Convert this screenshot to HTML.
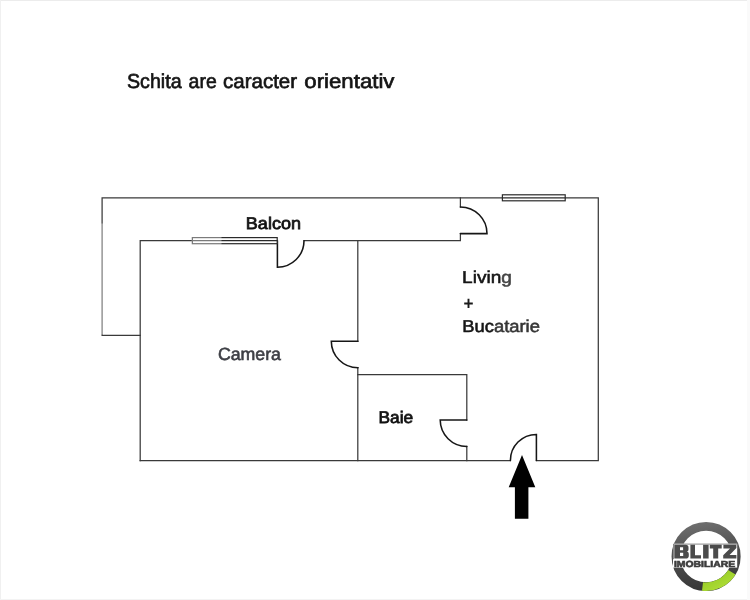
<!DOCTYPE html>
<html>
<head>
<meta charset="utf-8">
<title>Schita</title>
<style>
html,body{margin:0;padding:0;background:#fff;}
body{width:750px;height:600px;overflow:hidden;position:relative;font-family:"Liberation Sans",sans-serif;}
svg{position:absolute;left:0;top:0;display:block;will-change:transform;opacity:0.999;}
text{font-family:"Liberation Sans",sans-serif;}
</style>
</head>
<body>
<svg width="750" height="600" viewBox="0 0 750 600">
  <defs>
    <linearGradient id="ring" gradientUnits="userSpaceOnUse" x1="690" y1="522" x2="700" y2="591">
      <stop offset="0" stop-color="#707070"/>
      <stop offset="0.45" stop-color="#505050"/>
      <stop offset="1" stop-color="#363636"/>
    </linearGradient>
    <linearGradient id="grn" gradientUnits="userSpaceOnUse" x1="715" y1="565" x2="728" y2="590">
      <stop offset="0" stop-color="#8fc61f"/>
      <stop offset="1" stop-color="#b2e03a"/>
    </linearGradient>
  </defs>
  <rect x="0" y="0" width="750" height="600" fill="#ffffff"/>
  <!-- faint frame -->
  <rect x="0" y="0" width="750" height="1" fill="#ececec"/>
  <rect x="0" y="0" width="1" height="600" fill="#f0f0f0"/>
  <rect x="0" y="599" width="750" height="1" fill="#f3f3f3"/>
  <rect x="747" y="0" width="3" height="600" fill="#fafafa"/>

  <!-- walls -->
  <g fill="none" stroke="#3a3a3a" stroke-width="1.25" stroke-linecap="square" stroke-linejoin="miter">
    <!-- outer top / balcony -->
    <path d="M140.2 335.4 H102.1 V197.9 H598.3 V460.5 H536.4"/>
    <path d="M510.4 460.5 H140.2"/>
    <!-- camera left + top wall -->
    <path d="M140.2 460.5 V240.7 H277.4"/>
    <path d="M304 240.7 H460.4 V233.6"/>
    <!-- camera / living wall -->
    <path d="M357.8 240.7 V341.2"/>
    <path d="M357.8 367.6 V460.5"/>
    <!-- baie -->
    <path d="M357.8 374.5 H466.8 V420"/>
    <path d="M466.8 446.4 V460.5"/>
    <path d="M460.4 197.9 V207"/>
  </g>
  <!-- doors -->
  <g fill="none" stroke="#161616" stroke-width="1.55" stroke-linecap="round" stroke-linejoin="miter">
    <!-- balcony door (living) -->
    <path d="M460.4 207 A26.6 26.6 0 0 1 487 233.6 H460.4"/>
    <!-- camera balcony door -->
    <path d="M277.4 240.7 V267.2 A26.6 26.6 0 0 0 304 240.7"/>
    <!-- camera/living door -->
    <path d="M358 341.2 H331.3 A26.6 26.6 0 0 0 358 367.7"/>
    <!-- baie door -->
    <path d="M466.8 420 H440.2 A26.6 26.6 0 0 0 466.8 446.4"/>
    <!-- entrance door -->
    <path d="M536.4 460.5 V434.4 A26 26 0 0 0 510.4 460.5"/>
  </g>
  <!-- windows -->
  <g fill="#fff" stroke="#2a2a2a" stroke-width="1.2">
    <rect x="502.4" y="194.8" width="62.8" height="6"/>
    <rect x="192.4" y="237.6" width="84.8" height="6.1"/>
  </g>
  <g stroke="#2a2a2a" stroke-width="1.2">
    <line x1="502.5" y1="197.9" x2="565.5" y2="197.9"/>
    <line x1="192.5" y1="240.7" x2="277.5" y2="240.7"/>
  </g>
  <rect x="191.5" y="236.5" width="30" height="8.4" fill="#fff" opacity="0.38"/>
  <rect x="100" y="223.5" width="4.2" height="111" fill="#fff" opacity="0.36"/>

  <!-- arrow -->
  <path d="M522 454.9 L535.3 487.2 H528.4 V518.8 H514.9 V487.2 H508.7 Z" fill="#000"/>

  <!-- labels -->
  <g text-rendering="geometricPrecision">
  <g font-size="20.2" fill="#141414" stroke="#141414" stroke-width="0.65">
    <text x="127.0" y="87.5" textLength="54.6" lengthAdjust="spacingAndGlyphs">Schita</text>
    <text x="188.6" y="87.5" textLength="28.1" lengthAdjust="spacingAndGlyphs">are</text>
    <text x="223.1" y="87.5" textLength="74.0" lengthAdjust="spacingAndGlyphs">caracter</text>
    <text x="304.3" y="87.5" textLength="90.2" lengthAdjust="spacingAndGlyphs">orientativ</text>
  </g>
  <text x="245.85" y="229.2" font-size="16.8" fill="#111" stroke="#111" stroke-width="0.75" textLength="55.1" lengthAdjust="spacingAndGlyphs">Balcon</text>
  <text x="217.9" y="360.3" font-size="17.6" fill="#3f4046" stroke="#3f4046" stroke-width="0.6" textLength="63.1" lengthAdjust="spacingAndGlyphs">Camera</text>
  <text x="378.56" y="423.4" font-size="16.8" fill="#111" stroke="#111" stroke-width="0.75" textLength="34.68" lengthAdjust="spacingAndGlyphs">Baie</text>
  <text x="462.1" y="282.5" font-size="17.2" fill="#161616" stroke="#161616" stroke-width="0.55" textLength="49.85" lengthAdjust="spacingAndGlyphs">Livin<tspan fill="#454545" stroke="#454545">g</tspan></text>
  <path d="M464.2 302.5 H472.8 V304.4 H464.2 Z M467.55 298.8 H469.45 V308.1 H467.55 Z" fill="#1a1a1a"/>
  <text x="462.2" y="331.5" font-size="17.2" fill="#161616" stroke="#161616" stroke-width="0.55" textLength="77.75" lengthAdjust="spacingAndGlyphs">Buc<tspan fill="#363636" stroke="#363636">atarie</tspan></text>
  </g>

  <!-- logo -->
  <g>
    <circle cx="706.1" cy="556.5" r="30.2" fill="none" stroke="url(#ring)" stroke-width="8.7"/>
    <path d="M702.52 586.49 A30.2 30.2 0 0 0 731.85 572.28" fill="none" stroke="url(#grn)" stroke-width="8.5"/>
    <!-- white panel behind the wordmark -->
    <rect x="673" y="543.6" width="64.2" height="24" fill="#fff"/>
    <path d="M673.5 559.2 V544.1 H737" fill="none" stroke="#555" stroke-width="0.7"/>
    <g fill="#4b4b4b">
      <!-- B -->
      <path fill-rule="evenodd" d="M674.3 544.8 H685.6 Q688.5 544.8 688.5 547.6 V549.4 Q688.5 551.2 686.9 551.5 Q688.8 551.9 688.8 553.8 V555.7 Q688.8 558.5 685.8 558.5 H674.3 Z M680 547.2 V550.3 H683.1 V547.2 Z M680 552.7 V556.1 H683.2 V552.7 Z"/>
      <!-- L -->
      <path d="M690.4 544.8 H695 V555.3 H701 V558.5 H690.4 Z"/>
      <!-- I -->
      <rect x="703.1" y="544.8" width="5.5" height="13.7"/>
      <!-- T -->
      <path d="M709.8 544.8 H721.7 V548.4 H718.2 V558.5 H713.2 V548.4 H709.8 Z"/>
      <!-- Z -->
      <path d="M723.4 544.8 H736.4 V548 L729.6 555 H736.4 V558.5 H723.2 V555.3 L730 548.4 H723.4 Z"/>
    </g>
    <text x="673.9" y="566.7" text-rendering="geometricPrecision" font-size="8.8" font-weight="bold" fill="#3c3c3c" stroke="#3c3c3c" stroke-width="0.6" textLength="61.4" lengthAdjust="spacingAndGlyphs">IMOBILIARE</text>
  </g>
</svg>
</body>
</html>
